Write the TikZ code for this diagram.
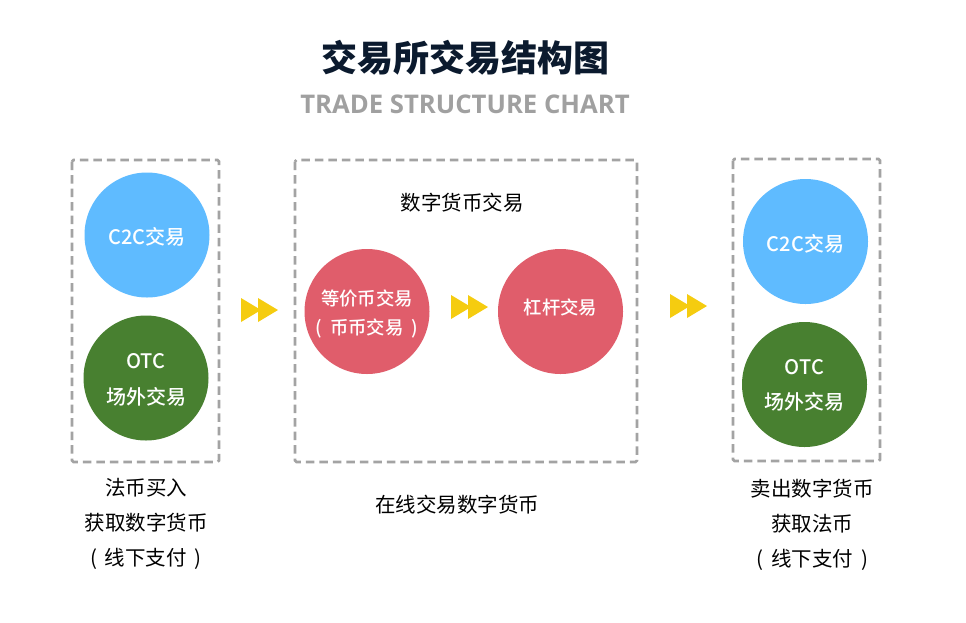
\documentclass[tikz,border=0pt]{standalone}
\usepackage{fontspec}
\setmainfont{Noto Sans CJK SC}
\newfontfamily\latinbold{Open Sans}
\newfontfamily\midfont{Noto Sans CJK SC Medium}
\usepackage{xcolor}
\usetikzlibrary{
    calc,
    positioning
}
\definecolor{titleink}{HTML}{0B1A2E}
\definecolor{subgray}{HTML}{A0A0A0}
\definecolor{boxgray}{HTML}{A3A3A3}
\definecolor{skyblue}{HTML}{5FBBFF}
\definecolor{leafgreen}{HTML}{488030}
\definecolor{rosered}{HTML}{E05D6B}
\definecolor{tipyellow}{HTML}{F5CC10}
\newcommand{\shifttext}[2]{\raisebox{#1pt}[\height][\depth]{#2}}
\tikzset{dbox/.style={draw=boxgray, line width=2.8pt, dash pattern=on 8.5pt off 5pt, rounded corners=1.5pt}}
\tikzset{rnd/.style={circle, inner sep=0pt, minimum size=125pt, text=white, font=\midfont\fontsize{20}{36}\selectfont, align=center}}
\tikzset{rndred/.style={rnd, fill=rosered, font=\midfont\fontsize{18.4}{30}\selectfont}}
\tikzset{lbl/.style={inner sep=0pt, text=black, font=\fontsize{20.5}{35}\selectfont, align=center}}
\tikzset{fwd/.pic={
    \fill[tipyellow] (0,-12) -- (20,0) -- (0,12) -- cycle;
    \fill[tipyellow] (17,-12) -- (37,0) -- (17,12) -- cycle;
}}

\begin{document}
\begin{tikzpicture}[x=1pt, y=-1pt]
    \useasboundingbox[fill=white] (0,0) rectangle (966,622);
    \node[inner sep=0pt, text=titleink, font=\fontsize{36}{36}\selectfont\bfseries] (title) at (465,58) {交易所交易结构图};
    \node[inner sep=0pt, text=subgray, font=\latinbold\fontsize{25.7}{26}\selectfont\bfseries] (subtitle) at (465,104.5) {TRADE STRUCTURE CHART};
    % boxes
    \draw[dbox] (72,160) rectangle (219,462);
    \draw[dbox] (295,160) rectangle (637,462);
    \draw[dbox] (733,159) rectangle (880,461);
    % left
    \node[rnd, fill=skyblue] (c2cl) at (147,235) {\shifttext{-2}{C2C交易}};
    \node[rnd, fill=leafgreen] (otcl) at (146,378) {\shifttext{-2}{OTC}\\\shifttext{-2}{场外交易}};
    % middle
    \node[lbl] (coin) at (462,203) {数字货币交易};
    \node[rndred] (equal) at (367,311.5) {\shifttext{-2.5}{等价币交易}\\\shifttext{-2}{(\hspace{8pt}币币交易\hspace{8pt})}};
    \node[rndred] (lever) at (560.5,311.5) {\shifttext{4}{杠杆交易}};
    % right
    \node[rnd, fill=skyblue] (c2cr) at (805.5,241.5) {\shifttext{-2}{C2C交易}};
    \node[rnd, fill=leafgreen] (otcr) at (804.5,384.5) {\shifttext{-1}{OTC}\\\shifttext{0}{场外交易}};
    % arrows
    \pic at (241,310) {fwd};
    \pic at (451,307) {fwd};
    \pic at (670,306) {fwd};
    % captions
    \node[lbl] (buy) at (146,523.5) {法币买入\\获取数字货币\\(\hspace{8pt}线下支付\hspace{8pt})};
    \node[lbl] (online) at (457,505) {在线交易数字货币};
    \node[lbl] (sell) at (812,525) {卖出数字货币\\获取法币\\(\hspace{8pt}线下支付\hspace{8pt})};
\end{tikzpicture}
\end{document}
